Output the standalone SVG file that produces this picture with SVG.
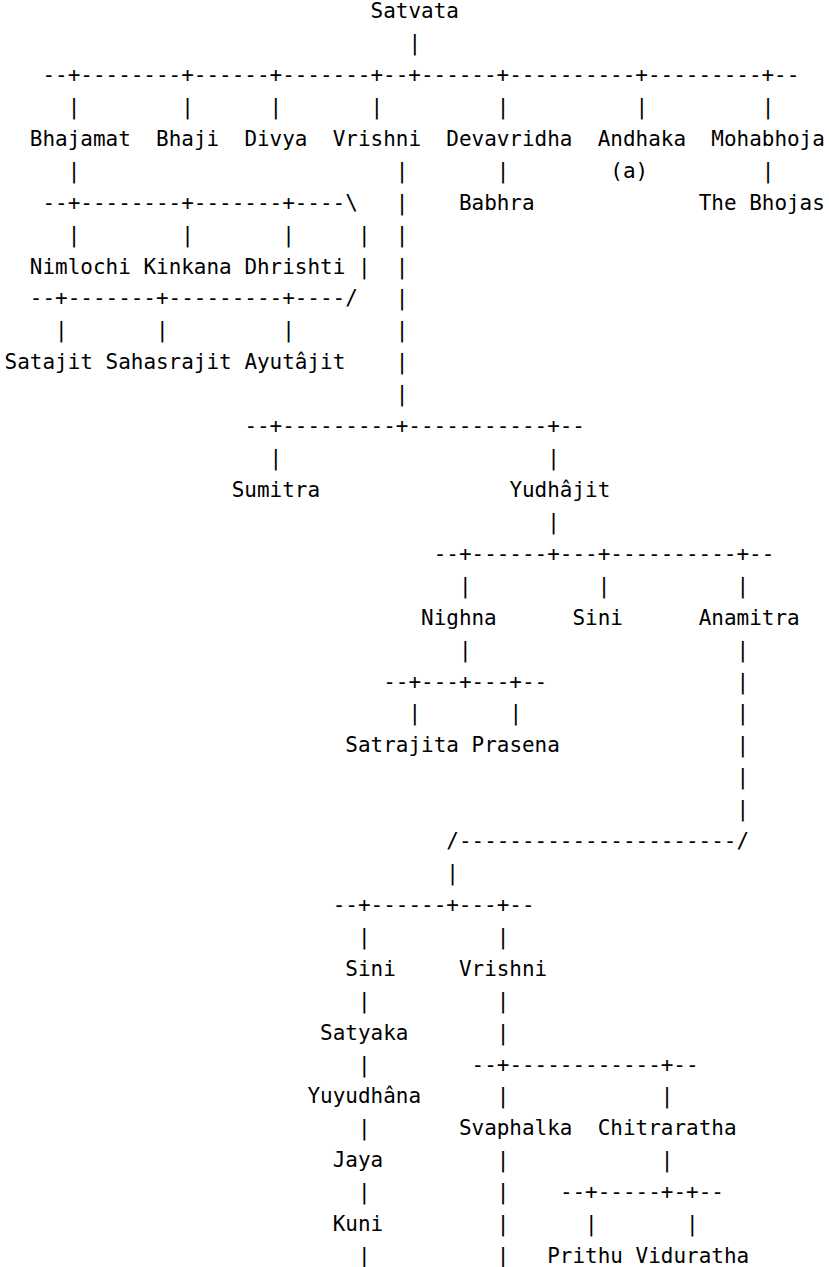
<svg xmlns="http://www.w3.org/2000/svg" width="829" height="1267" viewBox="0 0 829 1267">
<style>
text{font-family:"DejaVu Sans Mono","Liberation Mono",monospace;font-size:20.96px;fill:#000;white-space:pre}
</style>
<rect width="829" height="1267" fill="#fff"/>
<g id="connectors">
<text x="408.44" y="50.12">|</text>
<text x="42.46" y="82.04">--+--------+------+-------+--+------+----------+---------+--</text>
<text x="67.70 181.28 269.62 370.58 496.78 635.60 761.80" y="113.96">|||||||</text>
<text x="67.70" y="177.8">|</text>
<text x="395.82" y="177.8">|</text>
<text x="496.78" y="177.8">|</text>
<text x="761.80" y="177.8">|</text>
<text x="42.46" y="209.72">--+--------+-------+----\</text>
<text x="395.82" y="209.72">|</text>
<text x="67.70 181.28 282.24 357.96 395.82" y="241.64">|||||</text>
<text x="357.96" y="273.56">|</text>
<text x="395.82" y="273.56">|</text>
<text x="29.84" y="305.48">--+-------+---------+----/</text>
<text x="395.82" y="305.48">|</text>
<text x="55.08 156.04 282.24 395.82" y="337.4">||||</text>
<text x="395.82" y="369.32">|</text>
<text x="395.82" y="401.24">|</text>
<text x="244.38" y="433.16">--+---------+-----------+--</text>
<text x="269.62 547.26" y="465.08">||</text>
<text x="547.26" y="528.92">|</text>
<text x="433.68" y="560.84">--+------+---+----------+--</text>
<text x="458.92 597.74 736.56" y="592.76">|||</text>
<text x="458.92 736.56" y="656.6">||</text>
<text x="383.20" y="688.52">--+---+---+--</text>
<text x="736.56" y="688.52">|</text>
<text x="408.44 509.40 736.56" y="720.44">|||</text>
<text x="736.56" y="752.36">|</text>
<text x="736.56" y="784.28">|</text>
<text x="736.56" y="816.2">|</text>
<text x="446.30" y="848.12">/----------------------/</text>
<text x="446.30" y="880.04">|</text>
<text x="332.72" y="911.96">--+------+---+--</text>
<text x="357.96 496.78" y="943.88">||</text>
<text x="357.96 496.78" y="1007.72">||</text>
<text x="496.78" y="1039.64">|</text>
<text x="357.96" y="1071.56">|</text>
<text x="471.54" y="1071.56">--+------------+--</text>
<text x="496.78 660.84" y="1103.48">||</text>
<text x="357.96" y="1135.4">|</text>
<text x="496.78 660.84" y="1167.32">||</text>
<text x="357.96 496.78" y="1199.24">||</text>
<text x="559.88" y="1199.24">--+-----+-+--</text>
<text x="496.78 585.12 686.08" y="1231.16">|||</text>
<text x="357.96 496.78" y="1263.08">||</text>
</g>
<g id="satvata"><text x="370.58" y="18.2">Satvata</text></g>
<g id="bhajamat"><text x="29.84" y="145.88">Bhajamat</text></g>
<g id="bhaji"><text x="156.04" y="145.88">Bhaji</text></g>
<g id="divya"><text x="244.38" y="145.88">Divya</text></g>
<g id="vrishni1"><text x="332.72" y="145.88">Vrishni</text></g>
<g id="devavridha"><text x="446.30" y="145.88">Devavridha</text></g>
<g id="andhaka"><text x="597.74" y="145.88">Andhaka</text><text x="610.36" y="177.8">(a)</text></g>
<g id="mohabhoja"><text x="711.32" y="145.88">Mohabhoja</text></g>
<g id="babhra"><text x="458.92" y="209.72">Babhra</text></g>
<g id="bhojas"><text x="698.70" y="209.72">The Bhojas</text></g>
<g id="nimlochi"><text x="29.84" y="273.56">Nimlochi</text></g>
<g id="kinkana"><text x="143.42" y="273.56">Kinkana</text></g>
<g id="dhrishti"><text x="244.38" y="273.56">Dhrishti</text></g>
<g id="satajit"><text x="4.60" y="369.32">Satajit</text></g>
<g id="sahasrajit"><text x="105.56" y="369.32">Sahasrajit</text></g>
<g id="ayutajit"><text x="244.38" y="369.32">Ayutâjit</text></g>
<g id="sumitra"><text x="231.76" y="497.0">Sumitra</text></g>
<g id="yudhajit"><text x="509.40" y="497.0">Yudhâjit</text></g>
<g id="nighna"><text x="421.06" y="624.68">Nighna</text></g>
<g id="sini1"><text x="572.50" y="624.68">Sini</text></g>
<g id="anamitra"><text x="698.70" y="624.68">Anamitra</text></g>
<g id="satrajita"><text x="345.34" y="752.36">Satrajita</text></g>
<g id="prasena"><text x="471.54" y="752.36">Prasena</text></g>
<g id="sini2"><text x="345.34" y="975.8">Sini</text></g>
<g id="vrishni2"><text x="458.92" y="975.8">Vrishni</text></g>
<g id="satyaka"><text x="320.10" y="1039.64">Satyaka</text></g>
<g id="yuyudhana"><text x="307.48" y="1103.48">Yuyudhâna</text></g>
<g id="svaphalka"><text x="458.92" y="1135.4">Svaphalka</text></g>
<g id="chitraratha"><text x="597.74" y="1135.4">Chitraratha</text></g>
<g id="jaya"><text x="332.72" y="1167.32">Jaya</text></g>
<g id="kuni"><text x="332.72" y="1231.16">Kuni</text></g>
<g id="prithu"><text x="547.26" y="1263.08">Prithu</text></g>
<g id="viduratha"><text x="635.60" y="1263.08">Viduratha</text></g>
</svg>
